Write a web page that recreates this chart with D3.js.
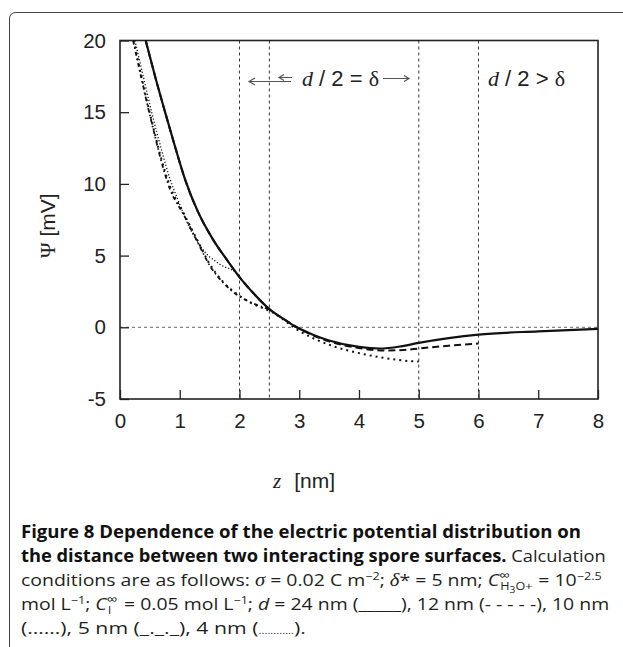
<!DOCTYPE html>
<html>
<head>
<meta charset="utf-8">
<script src="https://cdn.jsdelivr.net/npm/d3@7"></script>
<style>
body { margin: 0; background: #fff; }
svg { display: block; }
</style>
</head>
<body>
<div id="chart"></div>
<script>
// values: z in nm, psi in mV
var xTicks = [0, 1, 2, 3, 4, 5, 6, 7, 8];
var yTicks = [-5, 0, 5, 10, 15, 20];
var markerZ = [2, 2.5, 5, 6];

var d24Z = [0.43, 0.6, 0.755, 0.9, 1.09, 1.3, 1.56, 1.79, 2.0, 2.25, 2.51, 2.75, 2.96, 3.25, 3.5, 4.0, 4.35, 4.7, 5.0, 5.5, 6.0, 7.0, 8.0];
var d24Psi = [20, 17.3, 15, 12.9, 10.3, 8.1, 6.1, 4.7, 3.5, 2.3, 1.23, 0.55, 0, -0.55, -0.92, -1.37, -1.48, -1.33, -1.09, -0.76, -0.51, -0.28, -0.11];

var d12Z = [0.43, 0.6, 0.755, 0.9, 1.09, 1.3, 1.56, 1.79, 2.0, 2.25, 2.51, 2.75, 2.96, 3.25, 3.5, 4.0, 4.4, 4.75, 5.0, 5.5, 6.0];
var d12Psi = [20, 17.3, 15, 12.9, 10.3, 8.1, 6.1, 4.7, 3.5, 2.3, 1.23, 0.55, 0, -0.6, -0.98, -1.45, -1.62, -1.58, -1.48, -1.28, -1.13];

var d10Z = [0.23, 0.5, 0.84, 1.06, 1.28, 1.51, 1.73, 1.98, 2.17, 2.57, 3.01, 3.57, 4.0, 4.41, 4.91, 5.0];
var d10Psi = [20, 14.9, 9.8, 8.0, 6.2, 4.35, 3.15, 2.25, 1.75, 1.0, -0.28, -1.32, -1.8, -2.13, -2.37, -2.38];

var d5Z = [0.22, 0.5, 0.84, 1.06, 1.28, 1.51, 1.73, 1.98, 2.15, 2.3, 2.5];
var d5Psi = [20, 14.8, 9.6, 7.9, 6.1, 4.25, 3.1, 2.2, 1.81, 1.55, 1.25];

var d4Z = [0.25, 0.4, 0.53, 0.7, 0.84, 0.95, 1.17, 1.39, 1.67, 1.98, 2.0];
var d4Psi = [20, 17.3, 15, 12.3, 10.3, 9.1, 6.9, 5.4, 4.4, 3.65, 3.55];

var W = 623, H = 647;

var svg = d3.select("#chart").append("svg")
    .attr("width", W)
    .attr("height", H);

// outer figure border (rounded top-left corner, runs off the page)
svg.append("path")
    .attr("d", "M9.5,647 L9.5,19 Q9.5,12.5 16,12.5 L623,12.5")
    .attr("fill", "none")
    .attr("stroke", "#444")
    .attr("stroke-width", 1);

var x = d3.scaleLinear().domain([0, 8]).range([120, 598]);
var y = d3.scaleLinear().domain([-5, 20]).range([399, 40.5]);

svg.append("clipPath").attr("id", "plot")
  .append("rect")
    .attr("x", 120).attr("y", 40.5)
    .attr("width", 478).attr("height", 358.5);

// dotted reference lines
svg.append("g").selectAll("line")
    .data(markerZ)
    .enter().append("line")
    .attr("x1", function(d) { return x(d); })
    .attr("x2", function(d) { return x(d); })
    .attr("y1", y(20))
    .attr("y2", y(-5))
    .attr("stroke", "#222")
    .attr("stroke-width", 0.9)
    .attr("stroke-dasharray", "3,3");

svg.append("line")
    .attr("x1", x(0)).attr("x2", x(8))
    .attr("y1", y(0)).attr("y2", y(0))
    .attr("stroke", "#555")
    .attr("stroke-width", 0.9)
    .attr("stroke-dasharray", "3,3");

// axes
var fmt = function(d) { return String(d); };
var xAxis = d3.axisBottom(x).tickValues(xTicks).tickFormat(fmt).tickSize(-9).tickPadding(14);
var yAxis = d3.axisLeft(y).tickValues(yTicks).tickFormat(fmt).tickSize(-9).tickPadding(14);

var gx = svg.append("g").attr("transform", "translate(0," + y(-5) + ")").call(xAxis);
var gy = svg.append("g").attr("transform", "translate(" + x(0) + ",0)").call(yAxis);

[gx, gy].forEach(function(g) {
    g.select(".domain").remove();
    g.selectAll("line").attr("stroke", "#222").attr("stroke-width", 1.3);
    g.selectAll("text")
        .attr("fill", "#222")
        .style("font-family", "'Liberation Sans', Arial, sans-serif")
        .style("font-size", "20.5px");
});

svg.append("rect")
    .attr("x", x(0)).attr("y", y(20))
    .attr("width", x(8) - x(0)).attr("height", y(-5) - y(20))
    .attr("fill", "none")
    .attr("stroke", "#222")
    .attr("stroke-width", 1.6);

// curves
var line = d3.line()
    .x(function(d) { return x(d[0]); })
    .y(function(d) { return y(d[1]); })
    .curve(d3.curveMonotoneX);

var series = [
    {z: d4Z, psi: d4Psi, w: 1.3, dash: "1.2,2"},
    {z: d5Z, psi: d5Psi, w: 1.8, dash: "4,3,1.5,3"},
    {z: d10Z, psi: d10Psi, w: 2, dash: "2,4"},
    {z: d12Z, psi: d12Psi, w: 2, dash: "7,4"},
    {z: d24Z, psi: d24Psi, w: 2.2, dash: null}
];

svg.append("g").attr("clip-path", "url(#plot)")
  .selectAll("path")
    .data(series)
    .enter().append("path")
    .attr("d", function(s) { return line(d3.zip(s.z, s.psi)); })
    .attr("fill", "none")
    .attr("stroke", "#111")
    .attr("stroke-width", function(s) { return s.w; })
    .attr("stroke-dasharray", function(s) { return s.dash; });

// annotations at the top
var arrows = svg.append("g").attr("stroke", "#555").attr("fill", "none").attr("stroke-width", 1.2);
arrows.append("path").attr("d", "M291,81.5 L249,81.5 M255,78 L249,81.5 L255,85");
arrows.append("path").attr("d", "M292,77.5 L279,77.5 M284,74.5 L279,77.5 L284,80.5");
arrows.append("path").attr("d", "M383,78.5 L409,78.5 M404,75.5 L409,78.5 L404,81.5");

var ann = svg.append("g")
    .style("font-family", "'Liberation Sans', Arial, sans-serif")
    .style("font-size", "22px")
    .attr("fill", "#222");

function ratio(xx, op) {
    var t = ann.append("text").attr("x", xx).attr("y", 86);
    t.append("tspan").style("font-family", "'Liberation Serif', serif").style("font-style", "italic").text("d");
    t.append("tspan").text(" / 2 " + op + " ");
    t.append("tspan").style("font-family", "'Liberation Serif', serif").text("δ");
}
ratio(302, "=");
ratio(488, ">");

// axis titles
var xt = svg.append("text").attr("x", 273).attr("y", 488).attr("fill", "#222")
    .style("font-size", "21px");
xt.append("tspan").style("font-family", "'Liberation Serif', serif").style("font-style", "italic").text("z");
xt.append("tspan").attr("dx", 13).style("font-family", "'Liberation Sans', Arial, sans-serif").text("[nm]");

var yt = svg.append("text").attr("transform", "translate(55,258) rotate(-90)").attr("fill", "#222")
    .style("font-size", "21px");
yt.append("tspan").style("font-family", "'Liberation Serif', serif").text("Ψ");
yt.append("tspan").attr("dx", 6).style("font-family", "'Liberation Sans', Arial, sans-serif").text("[mV]");

// caption
var capX = 21;
var capFont = "'Open Sans', 'Noto Sans', sans-serif";

function captionLine(yy, width, parts) {
    var t = svg.append("text")
        .attr("x", capX).attr("y", yy)
        .style("font-family", capFont)
        .style("font-size", "17px")
        .attr("fill", "#231f20");
    var off = 0, lastW = 0, supW = 0, stackW = 0;
    parts.forEach(function(p) {
        var s = t.append("tspan").text(p.t);
        var target = p.shift || 0;
        if (target !== off) { s.attr("dy", target - off); off = target; }
        if (p.b) s.style("font-weight", "bold").attr("fill", "#111");
        if (p.i) s.style("font-style", "italic");
        if (p.serif) s.style("font-family", "'Liberation Serif', serif");
        if (p.size) s.style("font-size", p.size + "px");
        if (p.under) { supW = lastW; stackW = 0; s.attr("dx", -lastW + 1); }
        if (p.after) s.attr("dx", Math.max(0, supW - stackW) + 5);
        lastW = s.node().getComputedTextLength();
        stackW += lastW;
    });
    var w = t.node().getComputedTextLength();
    var k = width / w;
    t.attr("transform", "translate(" + capX + ",0) scale(" + k + ",1) translate(" + (-capX) + ",0)");
    return t;
}

captionLine(538, 560, [
    {t: "Figure 8 Dependence of the electric potential distribution on", b: true}
]);
captionLine(562, 585, [
    {t: "the distance between two interacting spore surfaces.", b: true},
    {t: " Calculation"}
]);
captionLine(586, 585, [
    {t: "conditions are as follows: "},
    {t: "σ", i: true, serif: true, size: 18},
    {t: " = 0.02 C m"},
    {t: "−2", shift: -6, size: 11},
    {t: "; ", shift: 0},
    {t: "δ", i: true, serif: true, size: 18},
    {t: "* = 5 nm; "},
    {t: "C", i: true},
    {t: "∞", shift: -6, size: 13},
    {t: "H", shift: 4, size: 11, under: true},
    {t: "3", shift: 7, size: 9},
    {t: "O+", shift: 4, size: 11},
    {t: "= 10", shift: 0, after: true},
    {t: "−2.5", shift: -6, size: 11}
]);
captionLine(610, 585, [
    {t: "mol L"},
    {t: "−1", shift: -6, size: 11},
    {t: "; ", shift: 0},
    {t: "C", i: true},
    {t: "∞", shift: -6, size: 13},
    {t: "l", shift: 4, size: 11, under: true},
    {t: "= 0.05 mol L", shift: 0, after: true},
    {t: "−1", shift: -6, size: 11},
    {t: "; ", shift: 0},
    {t: "d", i: true},
    {t: " = 24 nm (_____), 12 nm (- - - - -), 10 nm"}
]);
captionLine(634, 285, [
    {t: "(……), 5 nm (_._._), 4 nm ("},
    {t: "............", size: 9},
    {t: ")."}
]);
</script>
</body>
</html>
